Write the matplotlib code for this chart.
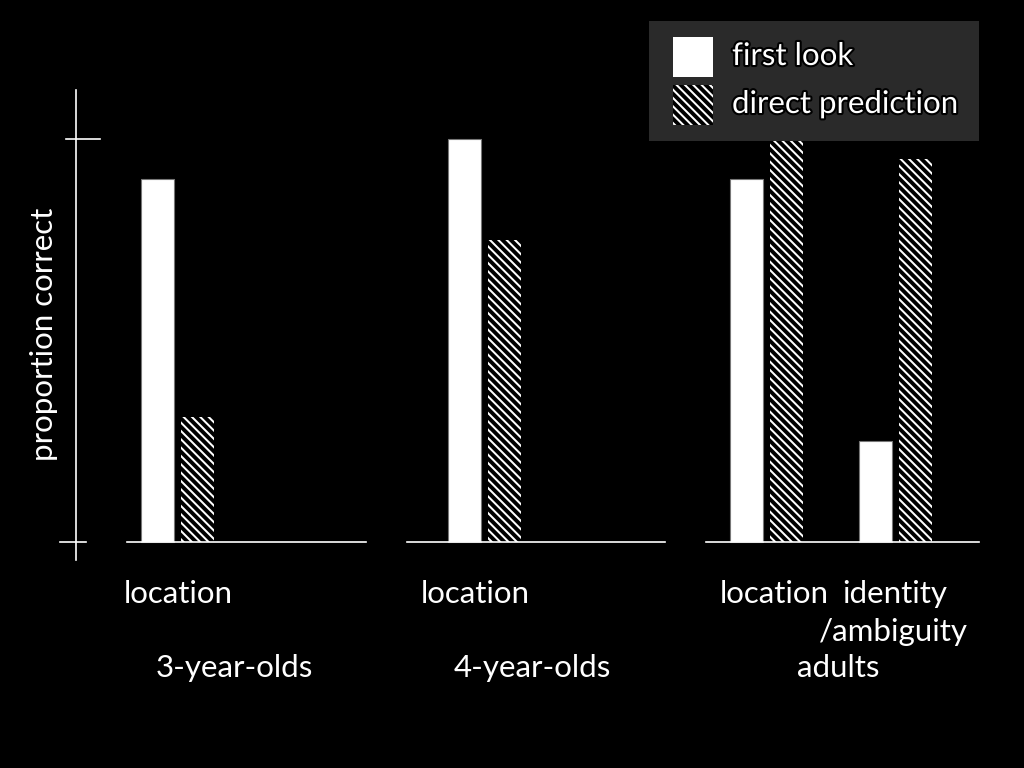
import matplotlib
matplotlib.use('Agg')
import matplotlib.pyplot as plt
from matplotlib.patches import Rectangle
import matplotlib.patheffects as pe

# Data
groups = ["3-year-olds", "4-year-olds", "adults"]
conditions = [["location"], ["location"], ["location", "identity\n/ambiguity"]]
first_look = [[0.90], [1.00], [0.90, 0.25]]
direct_prediction = [[0.31], [0.75], [1.00, 0.95]]
series_names = ["first look", "direct prediction"]

# Layout (pixel-like x units, figure is 1024 wide)
panel_spans = [(127, 366), (407, 665), (706, 979)]
cond_left = [[141], [448], [730, 859]]   # left edge of first-look bar
cond_label_x = [124, 421, 720]
bar_w = 33
bar_gap = 7
group_label_x = [234, 532, 838]
FS = 22.5

plt.rcParams['font.family'] = ['Lato', 'DejaVu Sans']
plt.rcParams['hatch.linewidth'] = 1.45

fig = plt.figure(figsize=(10.24, 7.68), dpi=100, facecolor='black')
ax = fig.add_axes([0, 0, 1, 1])
ax.set_facecolor('black')
ax.set_xlim(0, 1024)
# y: value 0 at pixel 542, value 1 at pixel 139
px = 403.0
ax.set_ylim(-(768 - 542) / px, 542 / px)
ax.axis('off')

def ypx(p):
    return (542 - p) / px

# axis line and ticks
ax.plot([76, 76], [ypx(560), ypx(90)], color='white', lw=1.2)
ax.plot([66, 100], [1.0, 1.0], color='white', lw=1.2)
ax.plot([60, 86], [0.0, 0.0], color='white', lw=1.2)

for g in range(len(groups)):
    x0, x1 = panel_spans[g]
    ax.plot([x0, x1], [0, 0], color='white', lw=1.2, zorder=3)
    for c, cond in enumerate(conditions[g]):
        left = cond_left[g][c]
        ax.bar(left, first_look[g][c], width=bar_w, align='edge',
               color='white', edgecolor='#777777', linewidth=0.8, zorder=2)
        ax.bar(left + bar_w + bar_gap, direct_prediction[g][c], width=bar_w,
               align='edge', color='black', edgecolor='white', linewidth=0,
               hatch='\\\\\\\\', zorder=2)
    # condition labels
    ax.text(cond_label_x[g], ypx(594), conditions[g][0], color='white',
            fontsize=FS, ha='left', va='center')
    if len(conditions[g]) > 1:
        ident, amb = conditions[g][1].split("\n")
        ax.text(842, ypx(594), ident, color='white',
                fontsize=FS, ha='left', va='center')
        ax.text(968, ypx(632), amb, color='white',
                fontsize=FS, ha='right', va='center')
    ax.text(group_label_x[g], ypx(668), groups[g], color='white',
            fontsize=FS, ha='center', va='center')

# y label
ax.text(44, ypx(334), "proportion correct", color='white', fontsize=FS,
        rotation=90, ha='center', va='center')

# legend box
ax.add_patch(Rectangle((649, ypx(141)), 330, (141 - 21) / px,
                       facecolor='#2a2a2a', edgecolor='none', zorder=5))
ax.add_patch(Rectangle((673, ypx(77)), 40, 40 / px, facecolor='white',
                       edgecolor='none', zorder=6))
ax.add_patch(Rectangle((673, ypx(125)), 40, 40 / px, facecolor='black',
                       edgecolor='white', linewidth=0, hatch='\\\\\\\\', zorder=6))
glow = [pe.withStroke(linewidth=3, foreground='black')]
ax.text(732, ypx(56), series_names[0], color='white', fontsize=FS,
        ha='left', va='center', zorder=7, path_effects=glow)
ax.text(732, ypx(104), series_names[1], color='white', fontsize=FS,
        ha='left', va='center', zorder=7, path_effects=glow)

fig.savefig('out.png', dpi=100, facecolor='black')
